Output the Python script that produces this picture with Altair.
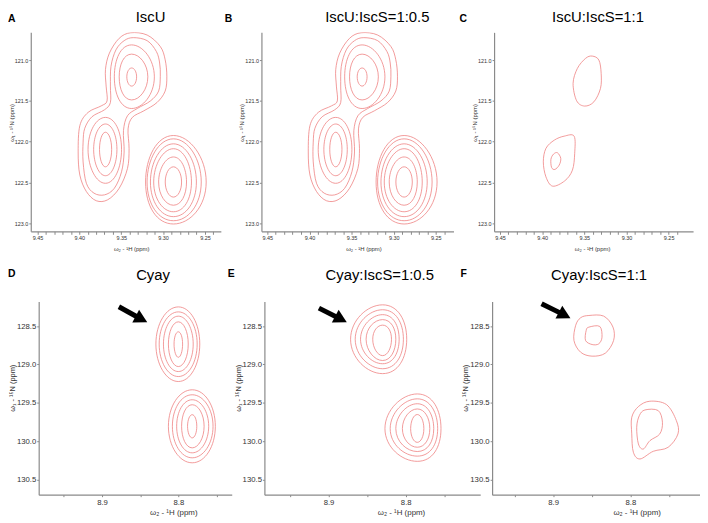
import altair as alt
import pandas as pd

RED = "#ee8282"
FONT = "Liberation Sans"
AXC = "#8a8a8a"

PANEL_TITLES = {"A": "IscU", "B": "IscU:IscS=1:0.5", "C": "IscU:IscS=1:1",
                "D": "Cyay", "E": "Cyay:IscS=1:0.5", "F": "Cyay:IscS=1:1"}
X_TITLE = "ω₂ - ¹H (ppm)"
Y_TITLE = "ω₁ - ¹⁵N (ppm)"

TOP_X_TICKS = [9.24, 9.25, 9.26, 9.27, 9.28, 9.29, 9.30, 9.31, 9.32, 9.33, 9.34,
               9.35, 9.36, 9.37, 9.38, 9.39, 9.40, 9.41, 9.42, 9.43, 9.44, 9.45]
TOP_Y_TICKS = [121.0, 121.5, 122.0, 122.5, 123.0]
BOT_X_TICKS = [8.75, 8.80, 8.85, 8.90, 8.95]
BOT_Y_TICKS = [128.5, 129.0, 129.5, 130.0, 130.5]

X_DOMAINS = {"A": [9.231, 9.458], "B": [9.229, 9.457], "C": [9.221, 9.457],
             "D": [8.730, 8.983], "E": [8.7035, 8.983], "F": [8.710, 8.979]}
TOP_Y_DOMAIN = [120.66, 123.10]
BOT_Y_DOMAIN = [128.18, 130.70]

# ---- IscU spectra (panels A, B): peak centres and contour rings ----
AB_CENTERS = {"P1": (9.3375, 121.206), "P2": (9.3688, 122.095), "P3": (9.2876, 122.495)}
# (peak, left x, right x, top y, bottom y)
AB_RINGS = [
    ("P1", 9.3433, 9.3316, 121.097, 121.319),
    ("P1", 9.3524, 9.3182, 120.927, 121.489),
    ("P1", 9.3582, 9.3104, 120.814, 121.594),
    ("P2", 9.3759, 9.3614, 121.885, 122.309),
    ("P2", 9.3829, 9.3551, 121.784, 122.418),
    ("P2", 9.3896, 9.3496, 121.703, 122.511),
    ("P3", 9.2974, 9.2779, 122.309, 122.680),
    ("P3", 9.3053, 9.2720, 122.188, 122.780),
    ("P3", 9.3112, 9.2661, 122.087, 122.860),
    ("P3", 9.3151, 9.2602, 122.027, 122.920),
    ("P3", 9.3191, 9.2544, 121.966, 122.970),
    ("P3", 9.3209, 9.2485, 121.925, 123.010),
]
AB_OUTER = [(9.3386, 120.665), (9.3190, 120.693), (9.3033, 120.834), (9.2975, 120.996),
            (9.2955, 121.198), (9.2975, 121.380), (9.3073, 121.521), (9.3229, 121.622),
            (9.3367, 121.703), (9.3418, 121.844), (9.3406, 122.087), (9.3425, 122.329),
            (9.3524, 122.572), (9.3661, 122.713), (9.3798, 122.725), (9.3916, 122.612),
            (9.3994, 122.410), (9.4014, 122.127), (9.3994, 121.804), (9.3896, 121.642),
            (9.3739, 121.562), (9.3669, 121.501), (9.3680, 121.319), (9.3688, 121.117),
            (9.3641, 120.915), (9.3524, 120.733)]
AB_INNER = [(9.3355, 120.725), (9.3190, 120.762), (9.3080, 120.895), (9.3041, 121.036),
            (9.3033, 121.198), (9.3053, 121.380), (9.3151, 121.501), (9.3308, 121.594),
            (9.3425, 121.683), (9.3473, 121.865), (9.3465, 122.127), (9.3496, 122.370),
            (9.3582, 122.572), (9.3700, 122.653), (9.3825, 122.632), (9.3916, 122.511),
            (9.3955, 122.249), (9.3955, 122.006), (9.3935, 121.836), (9.3849, 121.695),
            (9.3700, 121.610), (9.3629, 121.521), (9.3629, 121.319), (9.3622, 121.077),
            (9.3563, 120.875), (9.3465, 120.762)]

# ---- panel C ----
C_UPPER = [(9.3406, 120.951), (9.3327, 121.000), (9.3300, 121.163), (9.3308, 121.347),
           (9.3386, 121.512), (9.3496, 121.564), (9.3591, 121.499), (9.3633, 121.286),
           (9.3582, 121.102), (9.3485, 120.979)]
C_LOWER_OUT = [(9.3621, 121.933), (9.3614, 122.145), (9.3641, 122.350), (9.3732, 122.481),
               (9.3876, 122.546), (9.3955, 122.432), (9.3986, 122.248), (9.3955, 122.083),
               (9.3856, 121.982), (9.3739, 121.933)]
C_LOWER_IN = [(9.3818, 122.137), (9.3779, 122.206), (9.3798, 122.288), (9.3849, 122.341),
              (9.3888, 122.317), (9.3896, 122.218), (9.3865, 122.153)]

# ---- panel D ----
D_CENTERS = {"D1": (8.8000, 128.734), "D2": (8.7818, 129.807)}
D_RINGS = [
    ("D1", 8.8056, 8.7944, 128.574, 128.907),
    ("D1", 8.8130, 8.7870, 128.444, 129.028),
    ("D1", 8.8195, 8.7805, 128.370, 129.093),
    ("D1", 8.8251, 8.7753, 128.314, 129.158),
    ("D1", 8.8294, 8.7719, 128.249, 129.223),
    ("D2", 8.7879, 8.7758, 129.656, 129.959),
    ("D2", 8.7957, 8.7662, 129.526, 130.089),
    ("D2", 8.8022, 8.7602, 129.461, 130.154),
    ("D2", 8.8078, 8.7545, 129.396, 130.219),
    ("D2", 8.8130, 8.7515, 129.331, 130.284),
]
# ---- panel E ----
E_CENTERS = {"E1": (8.8299, 128.671), "E2": (8.7850, 129.838)}
E_RINGS = [
    ("E1", 8.8427, 8.8184, 128.487, 128.885),
    ("E1", 8.8513, 8.8128, 128.415, 128.949),
    ("E1", 8.8585, 8.8085, 128.350, 128.991),
    ("E1", 8.8654, 8.8030, 128.286, 129.056),
    ("E1", 8.8714, 8.7987, 128.222, 129.120),
    ("E2", 8.7936, 8.7765, 129.654, 130.017),
    ("E2", 8.8043, 8.7688, 129.581, 130.081),
    ("E2", 8.8128, 8.7637, 129.513, 130.137),
    ("E2", 8.8201, 8.7586, 129.449, 130.197),
    ("E2", 8.8269, 8.7543, 129.385, 130.265),
]
# ---- panel F ----
F1_OUT = [(8.8538, 128.361), (8.8346, 128.369), (8.8226, 128.513), (8.8218, 128.687),
          (8.8325, 128.853), (8.8496, 128.892), (8.8645, 128.840), (8.8731, 128.687),
          (8.8709, 128.491), (8.8645, 128.391)]
F1_IN = [(8.8538, 128.513), (8.8397, 128.504), (8.8368, 128.644), (8.8410, 128.731),
         (8.8496, 128.740), (8.8581, 128.687), (8.8573, 128.557)]
F2_OUT = [(8.7748, 129.480), (8.7534, 129.524), (8.7406, 129.733), (8.7385, 129.907),
          (8.7513, 130.082), (8.7705, 130.134), (8.7876, 130.234), (8.7962, 130.147),
          (8.7983, 129.907), (8.7983, 129.690), (8.7897, 129.550)]
F2_IN = [(8.7812, 129.594), (8.7641, 129.602), (8.7586, 129.755), (8.7620, 129.907),
         (8.7748, 129.995), (8.7833, 130.104), (8.7897, 130.038), (8.7919, 129.820),
         (8.7885, 129.668)]

# arrows: (tail x, tail y, head x, head y)
ARROWS = {"D": (8.8779, 128.247, 8.8483, 128.410),
          "E": (8.9124, 128.265, 8.8838, 128.410),
          "F": (8.9150, 128.208, 8.8851, 128.356)}

WIDTHS = {"A": 192, "B": 194, "C": 201, "D": 195, "E": 218, "F": 210}
LETTER_DX = {"A": -23, "B": -37, "C": -35, "D": -31, "E": -37, "F": -32}
TITLE_DX = {"A": 121, "B": 117, "C": 105, "D": 115.5, "E": 116.5, "F": 108}
XTITLE_X = {"A": 101.5, "B": 103, "C": 99, "D": 136, "E": 138, "F": 146}


def rings_df(centers, rings):
    rows = []
    for i, (pk, xl, xr, yt, yb) in enumerate(rings):
        cx, cy = centers[pk]
        for j, (x, y) in enumerate([(cx, yt), (xr, cy), (cx, yb), (xl, cy)]):
            rows.append({"cid": i, "ord": j, "x": x, "y": y})
    return pd.DataFrame(rows)


def polys_df(polys):
    rows = []
    for i, poly in enumerate(polys):
        for j, (x, y) in enumerate(poly):
            rows.append({"cid": i, "ord": j, "x": x, "y": y})
    return pd.DataFrame(rows)


AX_COMMON = dict(domainColor=AXC, domainWidth=1.2, tickColor=AXC, tickWidth=1,
                 labelColor="#333333", titleColor="#333333", labelFont=FONT,
                 titleFont=FONT, titleFontWeight="normal", grid=False,
                 labelFlush=False, labelOverlap=False)


def panel(key, rings=None, polys=None, arrow=None):
    top = key in "ABC"
    w = WIDTHS[key]
    h = 201 if top else 195
    xscale = alt.Scale(domain=X_DOMAINS[key], reverse=True, nice=False, zero=False)
    yscale = alt.Scale(domain=TOP_Y_DOMAIN if top else BOT_Y_DOMAIN,
                       reverse=True, nice=False, zero=False)
    if top:
        xax = alt.Axis(values=TOP_X_TICKS, title=X_TITLE, titleX=XTITLE_X[key],
                       labelExpr="abs(datum.value*20-round(datum.value*20))<0.01 ? format(datum.value,'.2f') : ''",
                       labelFontSize=5.5, titleFontSize=6, tickSize=3, labelPadding=1,
                       titlePadding=4.5, **AX_COMMON)
        yax = alt.Axis(values=TOP_Y_TICKS, format=".1f", title=Y_TITLE, titleY=91,
                       labelFontSize=5.5, titleFontSize=6, tickSize=2, labelPadding=1,
                       titlePadding=0, **AX_COMMON)
    else:
        xax = alt.Axis(values=BOT_X_TICKS, title=X_TITLE, titleX=XTITLE_X[key],
                       labelExpr="abs(datum.value*10-round(datum.value*10))<0.01 ? format(datum.value,'.1f') : ''",
                       labelFontSize=7.8, titleFontSize=8, tickSize=2, labelPadding=1.5,
                       titlePadding=3, **AX_COMMON)
        yax = alt.Axis(values=BOT_Y_TICKS, format=".1f", title=Y_TITLE, titleY=87,
                       labelFontSize=7.8, titleFontSize=7.5, tickSize=2, labelPadding=1,
                       titlePadding=0, **AX_COMMON)
    X = alt.X("x:Q", scale=xscale, axis=xax)
    Y = alt.Y("y:Q", scale=yscale, axis=yax)

    layers = []
    if rings is not None:
        layers.append(alt.Chart(rings).mark_line(
            interpolate="cardinal-closed", tension=-0.65, color=RED, strokeWidth=0.8,
            clip=True).encode(x=X, y=Y, detail="cid:N", order=alt.Order("ord:Q")))
    if polys is not None:
        layers.append(alt.Chart(polys).mark_line(
            interpolate="cardinal-closed", color=RED, strokeWidth=0.8,
            clip=True).encode(x=X, y=Y, detail="cid:N", order=alt.Order("ord:Q")))
    if arrow is not None:
        tx, ty, hx, hy = arrow
        shaft = pd.DataFrame({"ord": [0, 1], "x": [tx, hx], "y": [ty, hy]})
        head = pd.DataFrame({"x": [hx], "y": [hy]})
        layers.append(alt.Chart(shaft).mark_line(color="black", strokeWidth=5,
                                                 strokeCap="butt").encode(
            x=X, y=Y, order=alt.Order("ord:Q")))
        layers.append(alt.Chart(head).mark_point(
            shape="M-1,-1.1L1,0L-1,1.1Z", filled=True, size=175, angle=28,
            color="black", opacity=1).encode(x=X, y=Y))

    one = pd.DataFrame({"k": [0]})
    ly = -10 if top else -25
    ty_ = -10 if top else -22
    layers.append(alt.Chart(one).mark_text(
        text=key, font=FONT, fontWeight="bold", fontSize=10.5, align="left",
        baseline="alphabetic", color="black").encode(
        x=alt.value(LETTER_DX[key]), y=alt.value(ly)))
    layers.append(alt.Chart(one).mark_text(
        text=PANEL_TITLES[key], font=FONT, fontSize=15, align="center",
        baseline="alphabetic", color="black").encode(
        x=alt.value(TITLE_DX[key]), y=alt.value(ty_)))
    return alt.layer(*layers).properties(width=w, height=h)


def spacer(w, h):
    return alt.Chart(pd.DataFrame({"k": [0]})).mark_point(size=0, opacity=0).encode(
        x=alt.value(w / 2), y=alt.value(h / 2)).properties(width=w, height=h)


ab_r = rings_df(AB_CENTERS, AB_RINGS)
ab_p = polys_df([AB_OUTER, AB_INNER])

pA = panel("A", rings=ab_r, polys=ab_p)
pB = panel("B", rings=ab_r, polys=ab_p)
pC = panel("C", polys=polys_df([C_UPPER, C_LOWER_OUT, C_LOWER_IN]))
pD = panel("D", rings=rings_df(D_CENTERS, D_RINGS), arrow=ARROWS["D"])
pE = panel("E", rings=rings_df(E_CENTERS, E_RINGS), arrow=ARROWS["E"])
pF = panel("F", polys=polys_df([F1_OUT, F1_IN, F2_OUT, F2_IN]), arrow=ARROWS["F"])

top_row = alt.hconcat(spacer(23, 201), pA, spacer(41, 201), pB, spacer(41, 201), pC,
                      spacing=0, bounds="flush")
bot_row = alt.hconcat(spacer(31, 195), pD, spacer(33, 195), pE, spacer(12, 195), pF,
                      spacing=0, bounds="flush")

chart = alt.vconcat(top_row, bot_row, spacing=17).properties(padding=0)
chart = chart.configure(font=FONT).configure_view(stroke=None)
chart.save("out.html", embed_options={"renderer": "svg", "actions": False})
